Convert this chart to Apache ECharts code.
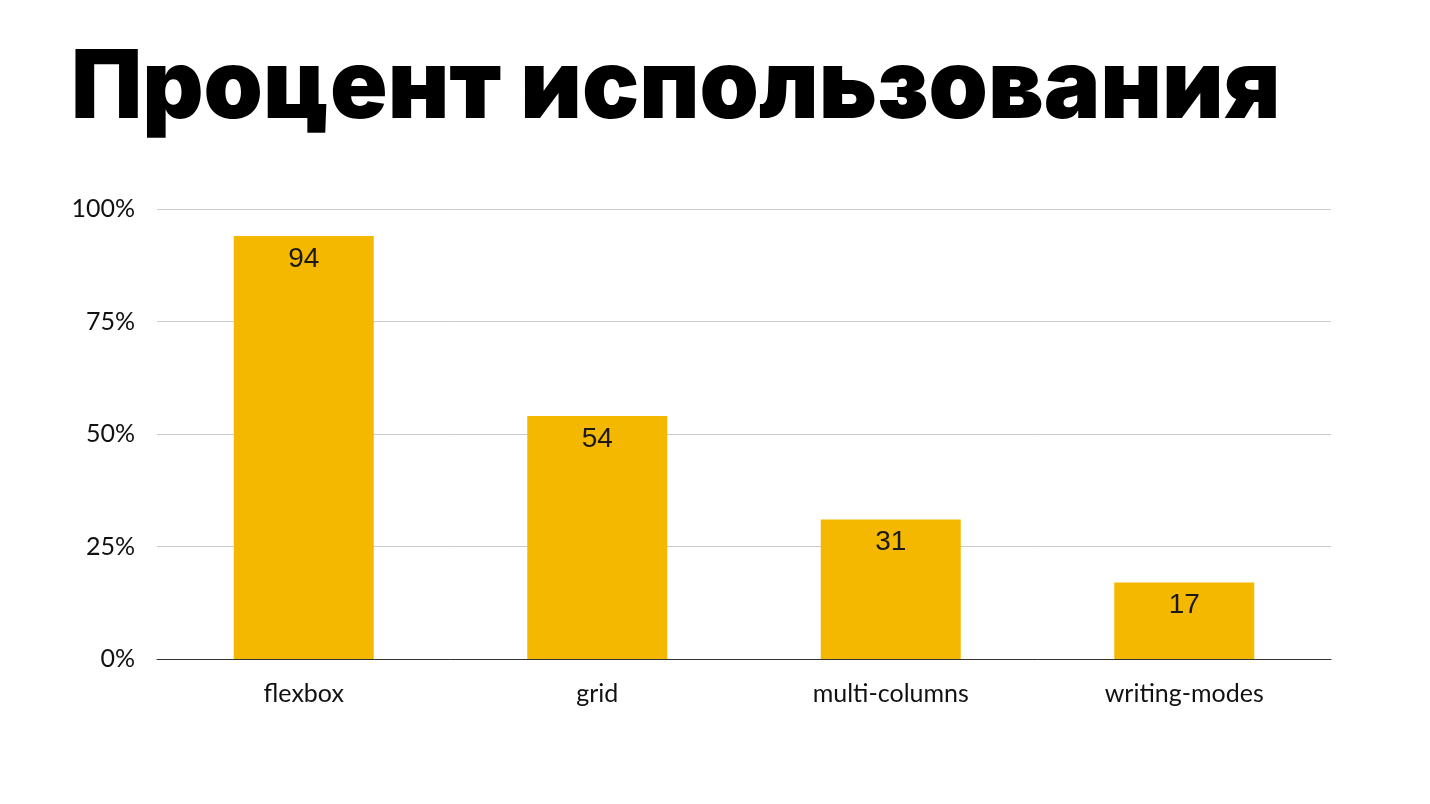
<!DOCTYPE html>
<html>
<head>
<meta charset="utf-8">
<script src="https://cdn.jsdelivr.net/npm/echarts@6/dist/echarts.min.js"></script>
<style>
  html, body { margin: 0; padding: 0; background: #fff; }
  #chart { width: 1430px; height: 804px; }
</style>
</head>
<body>
<div id="chart"></div>
<script>
// Share of sites using each CSS layout feature, percent
const categories = ['flexbox', 'grid', 'multi-columns', 'writing-modes'];
const usage = [94, 54, 31, 17];
const yTicks = [0, 25, 50, 75, 100];

const chart = echarts.init(document.getElementById('chart'));
chart.setOption({
  backgroundColor: '#ffffff',
  animation: false,
  title: {
    text: 'Процент использования',
    left: 66,
    top: 37,
    textStyle: {
      fontFamily: 'Inter',
      fontWeight: 900,
      fontSize: 95,
      color: '#000000'
    }
  },
  grid: { left: 157, right: 99, top: 209, bottom: 145 },
  xAxis: {
    type: 'category',
    data: categories,
    axisTick: { show: false },
    axisLine: { lineStyle: { color: '#333333', width: 1 } },
    axisLabel: {
      margin: 22,
      fontFamily: 'Lato',
      fontSize: 25,
      color: '#111111'
    }
  },
  yAxis: {
    type: 'value',
    min: yTicks[0],
    max: yTicks[yTicks.length - 1],
    interval: 25,
    axisLine: { show: false },
    axisTick: { show: false },
    splitLine: { lineStyle: { color: '#cccccc', width: 1 } },
    axisLabel: {
      margin: 22,
      fontFamily: 'Lato',
      fontSize: 25,
      color: '#111111',
      formatter: v => v + '%'
    }
  },
  series: [{
    type: 'bar',
    data: usage,
    barWidth: '47.7%',
    itemStyle: { color: '#F4B800' },
    label: {
      show: true,
      position: 'insideTop',
      distance: 9,
      fontFamily: 'Liberation Sans',
      fontSize: 28,
      color: '#1a1a1a'
    }
  }]
});
</script>
</body>
</html>
